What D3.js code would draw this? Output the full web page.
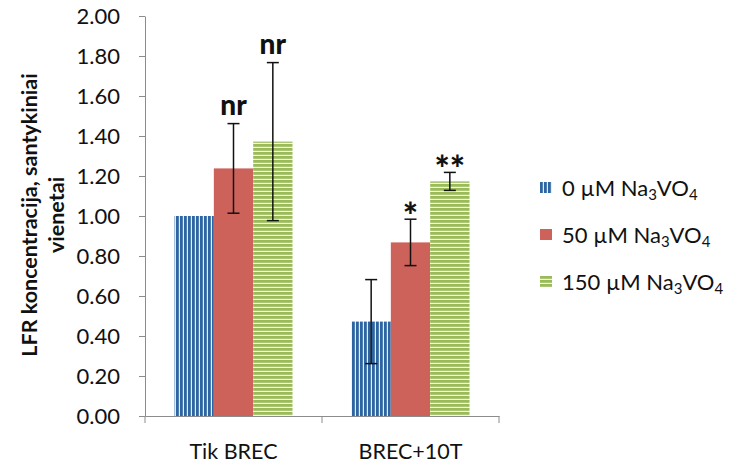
<!DOCTYPE html>
<html><head><meta charset="utf-8">
<script src="https://cdn.jsdelivr.net/npm/d3@7"></script>
<style>body{margin:0;background:#fff}svg{display:block}</style>
</head><body>
<svg id="c" width="730" height="466"></svg>
<script>
const categories = ["Tik BREC", "BREC+10T"];
const seriesConc = ["0", "50", "150"];
const values0 = [1.00, 0.472];
const values50 = [1.238, 0.868];
const values150 = [1.372, 1.173];
const errors0 = [0, 0.21];
const errors50 = [0.224, 0.116];
const errors150 = [0.395, 0.045];
const labels0 = ["", ""];
const labels50 = ["nr", "*"];
const labels150 = ["nr", "**"];
const yTicks = [0, 0.2, 0.4, 0.6, 0.8, 1.0, 1.2, 1.4, 1.6, 1.8, 2.0];
const yTitle = ["LFR koncentracija, santykiniai", "vienetai"];

const seriesVals = [values0, values50, values150];
const seriesErr = [errors0, errors50, errors150];
const seriesLab = [labels0, labels50, labels150];
const fills = ["url(#pBlue)", "#cd625b", "url(#pGreen)"];

const svg = d3.select("#c");
const font = "Lato, 'Open Sans', sans-serif";
const defs = svg.append("defs");
const pb = defs.append("pattern").attr("id", "pBlue").attr("patternUnits", "userSpaceOnUse")
  .attr("width", 4).attr("height", 4);
pb.append("rect").attr("width", 4).attr("height", 4).attr("fill", "#2d65a3");
pb.append("rect").attr("x", 2.8).attr("width", 1.2).attr("height", 4).attr("fill", "#e6ecf4");
const pg = defs.append("pattern").attr("id", "pGreen").attr("patternUnits", "userSpaceOnUse")
  .attr("width", 4).attr("height", 4);
pg.append("rect").attr("width", 4).attr("height", 4).attr("fill", "#9bbb59");
pg.append("rect").attr("y", 2.8).attr("width", 4).attr("height", 1.2).attr("fill", "#f3f7ea");

const x0 = d3.scaleBand().domain(categories).range([145, 499]).paddingInner(1/3).paddingOuter(1/6);
const x1 = d3.scaleBand().domain(d3.range(seriesConc.length)).range([0, x0.bandwidth()]);
const y = d3.scaleLinear().domain([0, 2]).range([416, 16]);

// Y axis
const ya = svg.append("g").attr("transform", "translate(145,0)")
  .call(d3.axisLeft(y).tickValues(yTicks).tickFormat(d3.format(".2f")).tickSize(6).tickSizeOuter(0));
ya.select(".domain").attr("stroke", "#8c8c8c");
ya.selectAll(".tick line").attr("stroke", "#8c8c8c");
ya.selectAll(".tick text").attr("font-family", font).attr("font-size", 22).attr("fill", "#111").attr("x", -25);

// X axis
const xa = svg.append("g").attr("transform", "translate(0,416)")
  .call(d3.axisBottom(x0).tickSize(0).tickSizeOuter(0));
xa.select(".domain").attr("stroke", "#8c8c8c");
xa.selectAll(".tick text").attr("font-family", font).attr("font-size", 21.5).attr("fill", "#111").attr("y", 28);
const bounds = [x0.range()[0], ...categories.slice(1).map(c => x0(c) - x0.step()*x0.paddingInner()/2), x0.range()[1]];
xa.selectAll(".bt").data(bounds).enter().append("line").attr("class", "bt")
  .attr("x1", d => d).attr("x2", d => d).attr("y1", 0).attr("y2", 7).attr("stroke", "#8c8c8c");

// Bars
const g = svg.append("g");
seriesVals.forEach((vals, s) => {
  g.selectAll(".b" + s).data(vals).enter().append("rect")
    .attr("x", (d, i) => x0(categories[i]) + x1(s))
    .attr("width", x1.bandwidth())
    .attr("y", d => y(d)).attr("height", d => y(0) - y(d))
    .attr("fill", fills[s]);
});
// Error bars
seriesVals.forEach((vals, s) => {
  vals.forEach((v, i) => {
    const e = seriesErr[s][i];
    if (!e) return;
    const cx = x0(categories[i]) + x1(s) + x1.bandwidth()/2;
    const eg = g.append("g").attr("stroke", "#111").attr("stroke-width", 1.5);
    eg.append("line").attr("x1", cx).attr("x2", cx).attr("y1", y(v + e)).attr("y2", y(v - e));
    eg.append("line").attr("x1", cx - 6).attr("x2", cx + 6).attr("y1", y(v + e)).attr("y2", y(v + e));
    eg.append("line").attr("x1", cx - 6).attr("x2", cx + 6).attr("y1", y(v - e)).attr("y2", y(v - e));
  });
});
// Significance labels
seriesVals.forEach((vals, s) => {
  vals.forEach((v, i) => {
    const t = seriesLab[s][i];
    if (!t) return;
    const cx = x0(categories[i]) + x1(s) + x1.bandwidth()/2;
    const star = t.indexOf("*") >= 0;
    svg.append("text").attr("x", cx).attr("y", y(v + seriesErr[s][i]) + (star ? 10 : -9))
      .attr("text-anchor", "middle").attr("font-family", font).attr("font-weight", "900")
      .attr("font-size", star ? 36 : 28).attr("fill", "#111").text(t);
  });
});

// Y title
const yt = svg.append("text").attr("transform", "translate(30,215) rotate(-90)")
  .attr("text-anchor", "middle").attr("font-family", font).attr("font-weight", "bold")
  .attr("font-size", 21.5).attr("fill", "#111");
yTitle.forEach((l, k) => yt.append("tspan").attr("x", 0).attr("y", 7 + k * 27).text(l));

// Legend
const lg = svg.append("g").attr("transform", "translate(540,0)");
seriesConc.forEach((c, s) => {
  const cy = 188 + s * 47;
  lg.append("rect").attr("x", 0).attr("y", cy - 6).attr("width", 12).attr("height", 11).attr("fill", fills[s]);
  const t = lg.append("text").attr("x", 22).attr("y", cy + 8).attr("font-family", font).attr("font-size", 22)
    .attr("fill", "#111");
  t.append("tspan").text(c + " µM Na");
  t.append("tspan").attr("font-size", 15).attr("dy", 4).text("3");
  t.append("tspan").attr("dy", -4).text("VO");
  t.append("tspan").attr("font-size", 15).attr("dy", 4).text("4");
});
</script>
</body></html>
